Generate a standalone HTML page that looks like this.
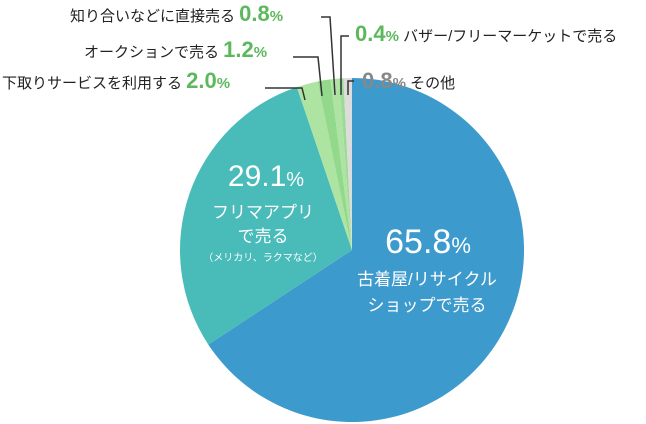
<!DOCTYPE html>
<html><head><meta charset="utf-8">
<style>
html,body{margin:0;padding:0;background:#fff;}
svg{display:block;font-family:"Liberation Sans","Noto Sans CJK JP",sans-serif;}
</style></head>
<body>
<svg id="chart" width="646" height="424" viewBox="0 0 646 424">
<g id="slices"></g>
<g stroke="#333" stroke-width="1.5" fill="none">
  <polyline points="265,88 302,88 305,100"/>
  <polyline points="293,57 318,57 322,96"/>
  <polyline points="321,17 330,17 335,95"/>
  <polyline points="349,36 341,36 341,95"/>
  <polyline points="354,81 348,81 348,95"/>
</g>
<g font-size="15" fill="#222">
  <text x="2" y="88">下取りサービスを利用する <tspan fill="#5cb85c" font-size="22" font-weight="bold">2.0</tspan><tspan fill="#5cb85c" font-size="15" font-weight="bold">%</tspan></text>
  <text x="84" y="57">オークションで売る <tspan fill="#5cb85c" font-size="22" font-weight="bold">1.2</tspan><tspan fill="#5cb85c" font-size="15" font-weight="bold">%</tspan></text>
  <text x="70" y="21">知り合いなどに直接売る <tspan fill="#5cb85c" font-size="22" font-weight="bold">0.8</tspan><tspan fill="#5cb85c" font-size="15" font-weight="bold">%</tspan></text>
  <text x="355" y="41"><tspan fill="#5cb85c" font-size="22" font-weight="bold">0.4</tspan><tspan fill="#5cb85c" font-size="15" font-weight="bold">%</tspan> バザー/フリーマーケットで売る</text>
  <text x="362" y="88"><tspan fill="#888" font-size="22" font-weight="bold">0.8</tspan><tspan fill="#888" font-size="15" font-weight="bold">%</tspan> その他</text>
</g>
<g fill="#fff" text-anchor="middle">
  <text x="266" y="186" font-size="30">29.1<tspan font-size="20">%</tspan></text>
  <text x="263" y="218" font-size="17">フリマアプリ</text>
  <text x="263" y="242" font-size="17">で売る</text>
  <text x="263" y="261" font-size="10">（メリカリ、ラクマなど）</text>
  <text x="428" y="253" font-size="34">65.8<tspan font-size="22">%</tspan></text>
  <text x="427" y="285" font-size="17">古着屋/リサイクル</text>
  <text x="427" y="311" font-size="17">ショップで売る</text>
</g>
</svg>
<script>
const categories = ["古着屋/リサイクルショップで売る","フリマアプリで売る","下取りサービスを利用する","オークションで売る","知り合いなどに直接売る","バザー/フリーマーケットで売る","その他"];
const values = [65.8, 29.1, 2.0, 1.2, 0.8, 0.4, 0.8];
const colors = ["#3d9acd","#49bbb9","#ade4a2","#93d98b","#aee3a4","#9bdb93","#dcdcdc"];
const cx = 352, cy = 250, r = 172;
const total = values.reduce((a,b)=>a+b,0);
function angleOf(v){ return v/total*Math.PI*2; }
const g = document.getElementById('slices');
let a = 0;
values.forEach((v,i)=>{
  const a0 = a, a1 = a + angleOf(v); a = a1;
  const x0 = cx + r*Math.sin(a0), y0 = cy - r*Math.cos(a0);
  const x1 = cx + r*Math.sin(a1), y1 = cy - r*Math.cos(a1);
  const large = (a1-a0) > Math.PI ? 1 : 0;
  const p = document.createElementNS('http://www.w3.org/2000/svg','path');
  p.setAttribute('d', `M${cx},${cy} L${x0},${y0} A${r},${r} 0 ${large} 1 ${x1},${y1} Z`);
  p.setAttribute('fill', colors[i]);
  
  
  g.appendChild(p);
});
</script>
</body></html>
